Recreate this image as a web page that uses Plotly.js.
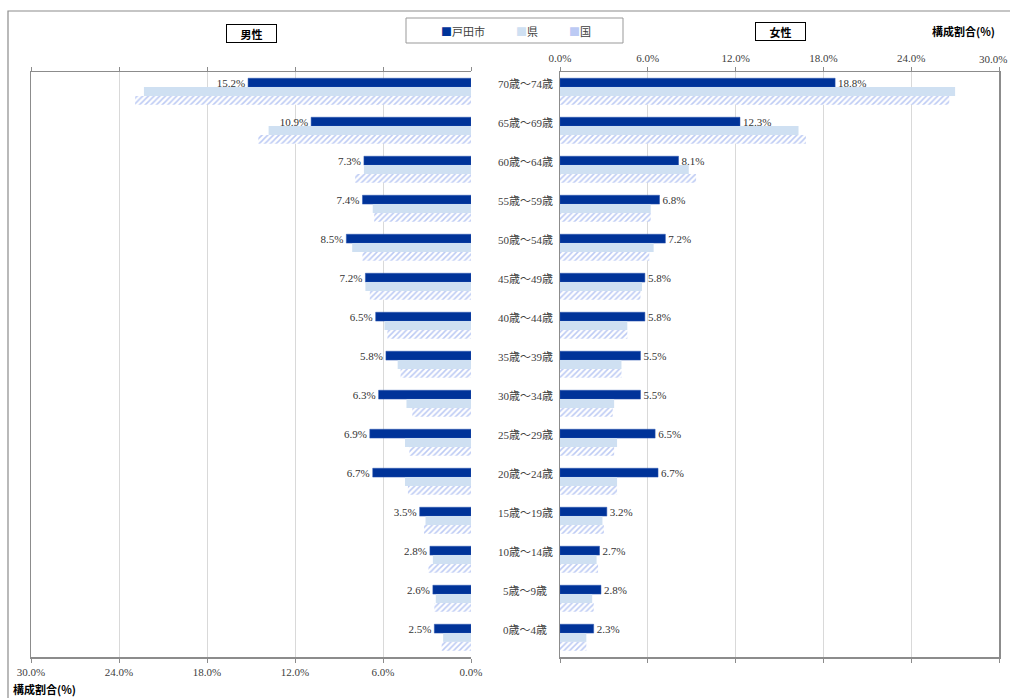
<!DOCTYPE html>
<html>
<head>
<meta charset="utf-8">
<script src="https://cdn.plot.ly/plotly-3.0.1.min.js"></script>
<style>
  html, body { margin: 0; padding: 0; background: #ffffff; }
  #chart { width: 1010px; height: 698px; }
</style>
</head>
<body>
<div id="chart"></div>
<script>
// 年齢階級（上から高齢順）
const ageGroups = ['70歳～74歳','65歳～69歳','60歳～64歳','55歳～59歳','50歳～54歳',
                   '45歳～49歳','40歳～44歳','35歳～39歳','30歳～34歳','25歳～29歳',
                   '20歳～24歳','15歳～19歳','10歳～14歳','5歳～9歳','0歳～4歳'];

// 男性 構成割合(%)
const maleCity = [15.2, 10.9, 7.3, 7.4, 8.5, 7.2, 6.5, 5.8, 6.3, 6.9, 6.7, 3.5, 2.8, 2.6, 2.5];
const malePref = [22.3, 13.8, 7.3, 6.7, 8.1, 7.2, 5.9, 5.0, 4.4, 4.5, 4.5, 3.1, 2.6, 2.4, 1.9];
const maleNation = [22.9, 14.5, 7.9, 6.6, 7.4, 6.9, 5.7, 4.8, 4.0, 4.2, 4.3, 3.2, 2.9, 2.5, 2.0];

// 女性 構成割合(%)
const femaleCity = [18.8, 12.3, 8.1, 6.8, 7.2, 5.8, 5.8, 5.5, 5.5, 6.5, 6.7, 3.2, 2.7, 2.8, 2.3];
const femalePref = [27.0, 16.3, 8.8, 6.2, 6.4, 5.6, 4.6, 4.2, 3.7, 3.9, 3.9, 2.9, 2.5, 2.2, 1.8];
const femaleNation = [26.6, 16.8, 9.3, 6.2, 6.1, 5.5, 4.6, 4.2, 3.6, 3.7, 3.9, 3.0, 2.6, 2.3, 1.8];

const seriesNames = ['戸田市', '県', '国'];
const axisTicks = [0, 6, 12, 18, 24, 30];
const fmtPct = v => v.toFixed(1) + '%';

const CITY = '#003399';
const PREF = '#cfe0f2';
const NATION = '#bccaf4';
const SERIF = '"Liberation Serif", "Noto Sans CJK JP", serif';
const GOTHIC = '"Noto Sans CJK JP", "Noto Sans", sans-serif';

function cityTrace(vals, xa, ya) {
  return {
    type: 'bar', orientation: 'h', name: seriesNames[0],
    x: vals, y: ageGroups, xaxis: xa, yaxis: ya,
    marker: { color: CITY, line: { color: '#2a55b0', width: 0.5 } },
    text: vals.map(fmtPct),
    textposition: 'outside', constraintext: 'none', cliponaxis: false,
    textfont: { family: SERIF, size: 11, color: '#333333' },
    hoverinfo: 'x+y'
  };
}
function prefTrace(vals, xa, ya) {
  return {
    type: 'bar', orientation: 'h', name: seriesNames[1],
    x: vals, y: ageGroups, xaxis: xa, yaxis: ya,
    marker: { color: PREF }, textposition: 'none', hoverinfo: 'x+y'
  };
}
function nationTrace(vals, xa, ya) {
  return {
    type: 'bar', orientation: 'h', name: seriesNames[2],
    x: vals, y: ageGroups, xaxis: xa, yaxis: ya,
    marker: {
      color: '#ffffff',
      pattern: { shape: '/', fgcolor: NATION, bgcolor: '#ffffff', size: 4, solidity: 0.38 }
    },
    textposition: 'none', hoverinfo: 'x+y'
  };
}

const traces = [
  cityTrace(maleCity, 'x', 'y'),
  prefTrace(malePref, 'x', 'y'),
  nationTrace(maleNation, 'x', 'y'),
  cityTrace(femaleCity, 'x2', 'y2'),
  prefTrace(femalePref, 'x2', 'y2'),
  nationTrace(femaleNation, 'x2', 'y2')
];

const xCommon = {
  tickvals: axisTicks,
  ticktext: axisTicks.map(fmtPct),
  showgrid: true, gridcolor: '#d9d9d9', gridwidth: 1,
  zeroline: false,
  showline: true, linecolor: '#8c8c8c', linewidth: 1.5,
  ticks: 'outside', ticklen: 4, tickcolor: '#8c8c8c',
  mirror: 'ticks',
  tickfont: { family: SERIF, size: 11, color: '#404040' },
  fixedrange: true
};
const yCommon = {
  type: 'category', categoryarray: ageGroups, categoryorder: 'array',
  autorange: 'reversed', showticklabels: false, ticks: '',
  showgrid: false, zeroline: false,
  showline: true, linecolor: '#8c8c8c', linewidth: 1.5,
  fixedrange: true
};

// 画素位置 → paper座標
const L = 31, R = 999, T = 72, B = 657;
const px = v => (v - L) / (R - L);
const py = v => (B - v) / (B - T);

const annotations = [];
// 年齢階級ラベル（中央）
ageGroups.forEach(g => {
  annotations.push({
    xref: 'paper', yref: 'y', x: px(525), y: g, yshift: 8,
    text: g, showarrow: false, xanchor: 'center', yanchor: 'middle',
    font: { family: SERIF, size: 11, color: '#404040' }
  });
});
// 右端の目盛ラベル（図の端に収める）
annotations.push({
  xref: 'paper', yref: 'paper', x: px(1009), y: py(59), text: fmtPct(axisTicks[axisTicks.length - 1]),
  showarrow: false, xanchor: 'right', yanchor: 'middle',
  font: { family: SERIF, size: 11, color: '#404040' }
});
// 凡例
[[463, '<span style="color:' + CITY + '">■</span>' + seriesNames[0]],
 [527, '<span style="color:' + PREF + '">■</span>' + seriesNames[1]],
 [580, '<span style="color:' + NATION + '">■</span>' + seriesNames[2]]].forEach(([xp, t]) => {
  annotations.push({
    xref: 'paper', yref: 'paper', x: px(xp), y: py(30.5), text: t,
    showarrow: false, xanchor: 'center', yanchor: 'middle',
    font: { family: GOTHIC, size: 11, color: '#404040' }
  });
});
// 男性・女性 見出し
[[251.5, 33.5, '男性'], [780.5, 31.5, '女性']].forEach(([xp, yp, t]) => {
  annotations.push({
    xref: 'paper', yref: 'paper', x: px(xp), y: py(yp), text: '<b>' + t + '</b>',
    showarrow: false, xanchor: 'center', yanchor: 'middle',
    width: 49, height: 17, borderpad: 0, bordercolor: '#000000', borderwidth: 1,
    bgcolor: '#ffffff',
    font: { family: GOTHIC, size: 11, color: '#000000' }
  });
});
// 軸の単位
annotations.push({
  xref: 'paper', yref: 'paper', x: px(963), y: py(30.5), text: '<b>構成割合(%)</b>',
  showarrow: false, xanchor: 'center', yanchor: 'middle',
  font: { family: GOTHIC, size: 11, color: '#000000' }
});
annotations.push({
  xref: 'paper', yref: 'paper', x: px(44.5), y: py(689), text: '<b>構成割合(%)</b>',
  showarrow: false, xanchor: 'center', yanchor: 'middle',
  font: { family: GOTHIC, size: 11, color: '#000000' }
});

const shapes = [
  // 外枠
  { type: 'rect', xref: 'paper', yref: 'paper', x0: px(8), x1: px(1013), y0: py(702), y1: py(11),
    line: { color: '#8c8c8c', width: 1.2 }, fillcolor: 'rgba(0,0,0,0)', layer: 'below' },
  // 凡例の枠
  { type: 'rect', xref: 'paper', yref: 'paper', x0: px(406), x1: px(623), y0: py(43), y1: py(18),
    line: { color: '#999999', width: 1 }, fillcolor: 'rgba(0,0,0,0)' }
];

const layout = {
  width: 1010, height: 698,
  margin: { l: L, r: 1010 - R, t: T, b: 698 - B, pad: 0 },
  paper_bgcolor: '#ffffff', plot_bgcolor: '#ffffff',
  showlegend: false,
  barmode: 'group', bargap: 0.32, bargroupgap: 0,
  xaxis: Object.assign({}, xCommon, { domain: [0, px(471)], range: [30, 0], side: 'bottom', anchor: 'y' }),
  yaxis: Object.assign({}, yCommon, { domain: [0, 1], anchor: 'x', mirror: false }),
  // 上側の目盛ラベルは 30.0% のみ注記で描画
  xaxis2: Object.assign({}, xCommon, {
    domain: [px(560), 1], range: [0, 30], side: 'top', anchor: 'y2',
    ticktext: axisTicks.map((v, i) => i === axisTicks.length - 1 ? '' : fmtPct(v))
  }),
  yaxis2: Object.assign({}, yCommon, { domain: [0, 1], anchor: 'x2', mirror: true }),
  annotations: annotations,
  shapes: shapes,
  font: { family: SERIF, size: 11, color: '#404040' }
};

Plotly.newPlot('chart', traces, layout, { displayModeBar: false, staticPlot: true });
</script>
</body>
</html>
